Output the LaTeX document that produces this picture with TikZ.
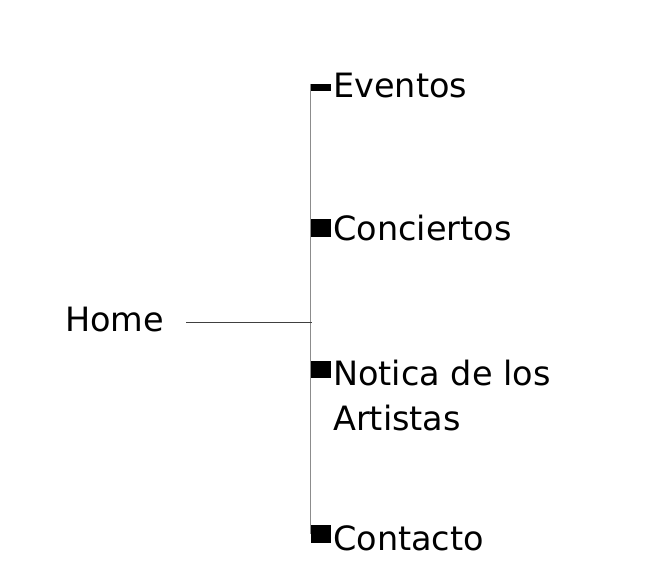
\documentclass[tikz,border=0pt]{standalone}
\usepackage{fontspec}
\setmainfont{DejaVu Sans}
\usetikzlibrary{positioning}
\newcommand\itemfont{\fontsize{33.5}{45}\selectfont}
\tikzset{
    bullet/.style = {
        fill=black, minimum width=20pt, minimum height=18pt, inner sep=0pt
    },
    entry/.style = {
        font=\itemfont, inner sep=0pt, anchor=base west, align=left
    },
    trunk/.style = {draw=black!45, line width=1pt},
    branch/.style = {draw=black!75, line width=0.9pt}
}
\begin{document}
\begin{tikzpicture}[x=1pt, y=-1pt]
        \useasboundingbox (0,0) rectangle (655,587);
        \node [entry] (home) at (65,331) {Home};
        \coordinate (hub) at (311.5,322);
        \coordinate (stub) at (186,322);
        % markers on the trunk
        \node [bullet, minimum height=7pt] (m1) at (321,87.5) {};
        \node [bullet] (m2) at (321,228) {};
        \node [bullet, minimum height=17pt] (m3) at (321,369.5) {};
        \node [bullet] (m4) at (321,534) {};
        \node [entry] (t1) at (333,97) {Eventos};
        \node [entry] (t2) at (333,240) {Conciertos};
        \node [entry] (t3) at (333,430) {Notica de los\\Artistas};
        \node [entry] (t4) at (333,550) {Contacto};
        \begin{scope}
            \draw [trunk] (m1.north west) -- (m4.west);
            \draw [branch] (stub) -- (hub);
        \end{scope}
    \end{tikzpicture}
\end{document}
